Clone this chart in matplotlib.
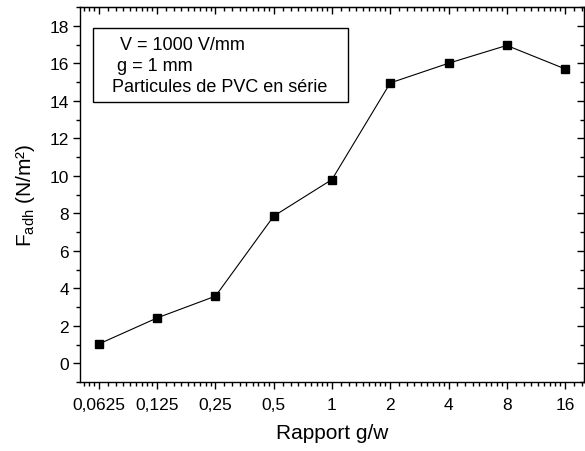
import numpy as np
import matplotlib
matplotlib.use('Agg')
import matplotlib.pyplot as plt
from matplotlib.ticker import LogLocator, FixedLocator, FixedFormatter, MultipleLocator, NullFormatter
from matplotlib.patches import Rectangle

# ---- data ----
rapport = [0.0625, 0.125, 0.25, 0.5, 1, 2, 4, 8, 16]
rapport_labels = ['0,0625', '0,125', '0,25', '0,5', '1', '2', '4', '8', '16']
f_adh = [1.03, 2.42, 3.58, 7.85, 9.8, 14.95, 16.0, 16.95, 15.7]
info_lines = ['V = 1000 V/mm', 'g = 1 mm', 'Particules de PVC en série']

plt.rcParams['font.family'] = ['Liberation Sans', 'DejaVu Sans']
plt.rcParams['mathtext.fontset'] = 'custom'
plt.rcParams['mathtext.rm'] = 'Liberation Sans'
plt.rcParams['mathtext.it'] = 'Liberation Sans'

W, H = 585, 452
fig = plt.figure(figsize=(W / 100, H / 100), dpi=100)
ax = fig.add_axes([80 / W, 1 - 383 / H, 504 / W, 375 / H])

ax.plot(rapport, f_adh, color='black', lw=0.8, marker='s', ms=5.5,
        mfc='black', mec='black')

ax.set_xscale('log', base=2)
ax.set_xlim(0.0625 / 2 ** 0.326, 16 * 2 ** 0.326)
ax.set_ylim(-1, 19)

#-- minor ticks: 8 linear subdivisions per octave
minor_subs = 1 + np.arange(1, 9) / 9.0
ax.xaxis.set_major_locator(FixedLocator(rapport))
ax.xaxis.set_major_formatter(FixedFormatter(rapport_labels))
ax.xaxis.set_minor_locator(LogLocator(base=2, subs=minor_subs, numticks=40))
ax.xaxis.set_minor_formatter(NullFormatter())
ax.yaxis.set_major_locator(MultipleLocator(2))
ax.yaxis.set_minor_locator(MultipleLocator(1))

for s in ax.spines.values():
    s.set_linewidth(1.0)

ax.tick_params(which='both', direction='out', labelsize=12.5, width=1.0, colors='black')
ax.tick_params(which='major', length=5, pad=3)
ax.tick_params(which='minor', length=3)
ax.tick_params(axis='x', which='major', pad=6)

#-- inward ticks on top and right
axt = ax.secondary_xaxis('top')
axt.set_xticks(rapport)
axt.xaxis.set_minor_locator(LogLocator(base=2, subs=minor_subs, numticks=40))
axt.xaxis.set_minor_formatter(NullFormatter())
axt.tick_params(which='both', direction='in', labeltop=False, width=1.0)
axt.tick_params(which='major', length=5)
axt.tick_params(which='minor', length=3)
axr = ax.secondary_yaxis('right')
axr.yaxis.set_major_locator(MultipleLocator(2))
axr.yaxis.set_minor_locator(MultipleLocator(1))
axr.tick_params(which='both', direction='in', labelright=False, width=1.0)
axr.tick_params(which='major', length=5)
axr.tick_params(which='minor', length=3)

ax.set_xlabel('Rapport g/w', fontsize=15, labelpad=8)
ax.set_ylabel(r'F$_{\mathrm{adh}}$ (N/m²)', fontsize=15, labelpad=9)

#-- info box
fig.patches.append(Rectangle((93 / W, 1 - 103 / H), 255 / W, 74 / H,
                             transform=fig.transFigure, fill=False,
                             edgecolor='black', lw=1.0))
line_x = [120, 117, 112]
line_y = [45, 67, 88]
for txt, lx, ly in zip(info_lines, line_x, line_y):
    fig.text(lx / W, 1 - ly / H, txt, fontsize=13, ha='left', va='center')

fig.savefig('out.png', dpi=100)
